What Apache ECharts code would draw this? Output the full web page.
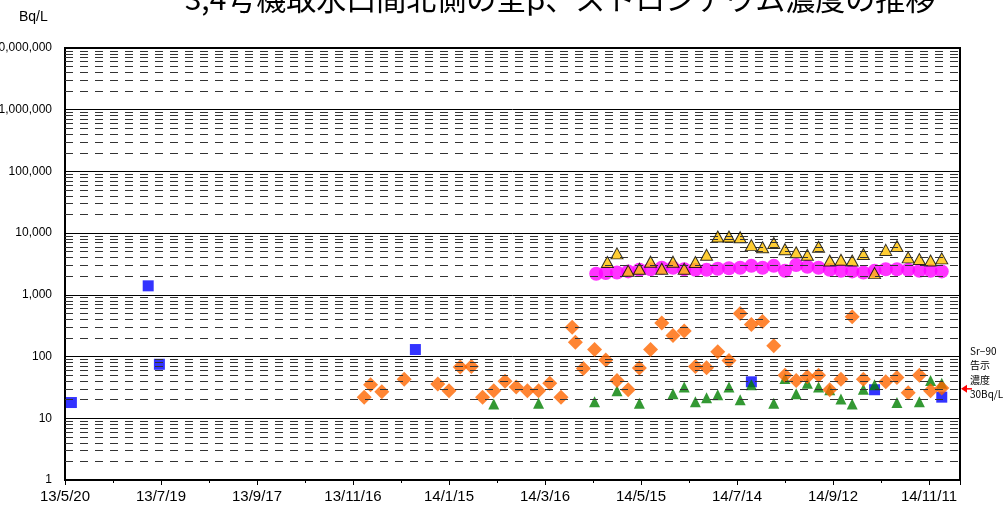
<!DOCTYPE html>
<html><head><meta charset="utf-8">
<script src="https://cdn.jsdelivr.net/npm/echarts@6/dist/echarts.min.js"></script>
<style>html,body{margin:0;padding:0;background:#fff;overflow:hidden}#c{width:1005px;height:510px}</style>
</head><body><div id="c"></div>
<script>
const titleText = '3,4号機取水口間北側の全β、ストロンチウム濃度の推移';
const unitText = 'Bq/L';
const startDate = '2013-05-20';
const xTickLabels = ['13/5/20','13/7/19','13/9/17','13/11/16','14/1/15','14/3/16','14/5/15','14/7/14','14/9/12','14/11/11'];
const yTickLabels = ['1','10','100','1,000','10,000','100,000','1,000,000','10,000,000'];
const noteLines = ['Sr\u221290','告示','濃度','30Bq/L'];
const noteValue = 30;

const blueDates = ['2013-05-24','2013-07-11','2013-07-18','2013-12-25','2014-07-23','2014-10-08','2014-11-19'];
const blueValues = [18,1400,75,130,39,29,22];

const orangeDates = ['2013-11-23','2013-11-27','2013-12-04','2013-12-18','2014-01-08','2014-01-15','2014-01-22','2014-01-29',
 '2014-02-05','2014-02-12','2014-02-19','2014-02-26','2014-03-05','2014-03-12','2014-03-19','2014-03-26',
 '2014-04-02','2014-04-04','2014-04-09','2014-04-16','2014-04-23','2014-04-30','2014-05-07','2014-05-14','2014-05-21','2014-05-28',
 '2014-06-04','2014-06-11','2014-06-18','2014-06-25','2014-07-02','2014-07-09','2014-07-16','2014-07-23','2014-07-30',
 '2014-08-06','2014-08-13','2014-08-20','2014-08-27','2014-09-03','2014-09-10','2014-09-17','2014-09-24','2014-10-01',
 '2014-10-15','2014-10-22','2014-10-29','2014-11-05','2014-11-12','2014-11-19'];
const orangeValues = [22,35,27,43,36,28,68,69,22,28,40,32,28,28,37,22,300,170,64,130,88,41,29,65,130,350,220,260,69,66,120,86,500,330,370,150,50,41,47,50,29,43,440,43,39,46,26,50,28,31];

const greenDates = ['2014-02-12','2014-03-12','2014-04-16','2014-04-30','2014-05-14','2014-06-04','2014-06-11','2014-06-18','2014-06-25',
 '2014-07-02','2014-07-09','2014-07-16','2014-07-23','2014-08-06','2014-08-13','2014-08-20','2014-08-27','2014-09-03','2014-09-10',
 '2014-09-17','2014-09-24','2014-10-01','2014-10-08','2014-10-22','2014-11-05','2014-11-12','2014-11-19'];
const greenValues = [17,17.5,18.6,28,17.5,25,32,18.6,21.6,24,32,20,35,17.5,44,25,37,32,29,20.5,17,29.5,35,18,18.6,41,37];

const yellowDates = ['2014-04-24','2014-04-30','2014-05-07','2014-05-14','2014-05-21','2014-05-28','2014-06-04','2014-06-11','2014-06-18','2014-06-25',
 '2014-07-02','2014-07-09','2014-07-16','2014-07-23','2014-07-30','2014-08-06','2014-08-13','2014-08-20','2014-08-27',
 '2014-09-03','2014-09-10','2014-09-17','2014-09-24','2014-10-01','2014-10-08','2014-10-15','2014-10-22','2014-10-29',
 '2014-11-05','2014-11-12','2014-11-19'];
const yellowValues = [3400,4700,2450,2650,3450,2650,3450,2650,3400,4450,8800,8800,8600,6400,5900,6900,5500,4900,4450,6000,3600,3700,3600,4600,2250,5350,6200,4050,3800,3600,3900];

const magentaDates = ['2014-04-17','2014-04-23','2014-04-30','2014-05-07','2014-05-14','2014-05-21','2014-05-28','2014-06-04','2014-06-11','2014-06-18','2014-06-25',
 '2014-07-02','2014-07-09','2014-07-16','2014-07-23','2014-07-30','2014-08-06','2014-08-13','2014-08-20','2014-08-27',
 '2014-09-03','2014-09-10','2014-09-17','2014-09-24','2014-10-01','2014-10-08','2014-10-15','2014-10-22','2014-10-29',
 '2014-11-05','2014-11-12','2014-11-19'];
const magentaValues = [2200,2250,2300,2400,2550,2600,2750,2750,2600,2550,2550,2650,2700,2750,2950,2750,2950,2450,3050,2850,2750,2550,2450,2400,2300,2450,2600,2600,2550,2450,2450,2400];

function dayOf(s){const p=s.split('-').map(Number);const q=startDate.split('-').map(Number);
  return (Date.UTC(p[0],p[1]-1,p[2])-Date.UTC(q[0],q[1]-1,q[2]))/86400000;}
function pts(d,v){return d.map((s,i)=>[dayOf(s),v[i]]);}

const minor=[];
for(let e=0;e<7;e++){for(let k=2;k<=9;k++){minor.push({yAxis:k*Math.pow(10,e)});}}

const chart = echarts.init(document.getElementById('c'),null,{renderer:'canvas'});
const numFont='Liberation Sans';
chart.setOption({
  animation:false,
  grid:{left:65,right:45,top:48,bottom:30,containLabel:false,outerBoundsMode:'none',show:true,borderColor:'#000',borderWidth:2,backgroundColor:'transparent'},
  xAxis:{type:'value',min:0,max:559.4,interval:60,
    axisLine:{show:true,onZero:false,lineStyle:{color:'#000',width:2}},
    axisTick:{show:true,length:5,lineStyle:{color:'#000',width:1}},
    minorTick:{show:true,splitNumber:2,length:3,lineStyle:{color:'#000'}},
    splitLine:{show:false},
    axisLabel:{showMaxLabel:false,color:'#000',fontFamily:numFont,fontSize:15,margin:9,
      formatter:v=>{const i=Math.round(v/60);return (Math.abs(v-i*60)<0.01 && xTickLabels[i])?xTickLabels[i]:'';}}},
  yAxis:{type:'log',logBase:10,min:1,max:1e7,
    axisLine:{show:true,lineStyle:{color:'#000',width:2}},
    axisTick:{show:false},
    splitLine:{show:true,lineStyle:{color:'#000',width:1}},
    axisLabel:{color:'#000',fontFamily:numFont,fontSize:12,margin:13,
      formatter:v=>{const i=Math.round(Math.log10(v));return yTickLabels[i]||'';}}},
  series:[
    {type:'line',data:[],silent:true,markLine:{silent:true,symbol:['none','none'],label:{show:false},
      lineStyle:{type:[8,7],color:'#333',width:1},data:minor},z:1},
    {name:'blue',type:'scatter',data:pts(blueDates,blueValues),symbol:'rect',symbolSize:11,itemStyle:{color:'#0000FF'},z:3},
    {name:'green',type:'scatter',data:pts(greenDates,greenValues),symbol:'triangle',symbolSize:[11,11],itemStyle:{color:'#008000'},z:3},
    {name:'orange',type:'scatter',data:pts(orangeDates,orangeValues),symbol:'diamond',symbolSize:[15,15],itemStyle:{color:'#FF6600'},z:3},
    {name:'magenta',type:'scatter',data:pts(magentaDates,magentaValues),symbol:'circle',symbolSize:14,itemStyle:{color:'#FF00FF'},z:3},
    {name:'yellow',type:'scatter',data:pts(yellowDates,yellowValues),symbol:'triangle',symbolSize:[12,11],itemStyle:{color:'#FFC000',borderColor:'#000',borderWidth:1},z:3}
  ]
});
const yN = chart.convertToPixel({yAxisIndex:0},noteValue);
const xR = 1005-45;
const g=[
  {type:'text',left:19,top:10,style:{text:unitText,fill:'#000',font:'14px "Liberation Sans"'}},
  {type:'text',x:560,y:-16,style:{text:titleText,fill:'#000',font:'30px "Noto Sans CJK JP"',textAlign:'center'}},
  {type:'polygon',shape:{points:[[xR+1,yN],[xR+7,yN-4],[xR+7,yN+4]]},style:{fill:'#FF0000'}},
  {type:'line',shape:{x1:xR+6,y1:yN,x2:xR+12,y2:yN},style:{stroke:'#FF0000',lineWidth:1.5}}
];
noteLines.forEach((t,i)=>g.push({type:'text',x:xR+10,y:yN-38+i*14.5,
  style:{text:t,fill:'#000',font:'10px "Noto Sans CJK JP"',textVerticalAlign:'middle'}}));
chart.setOption({graphic:g});
</script></body></html>
